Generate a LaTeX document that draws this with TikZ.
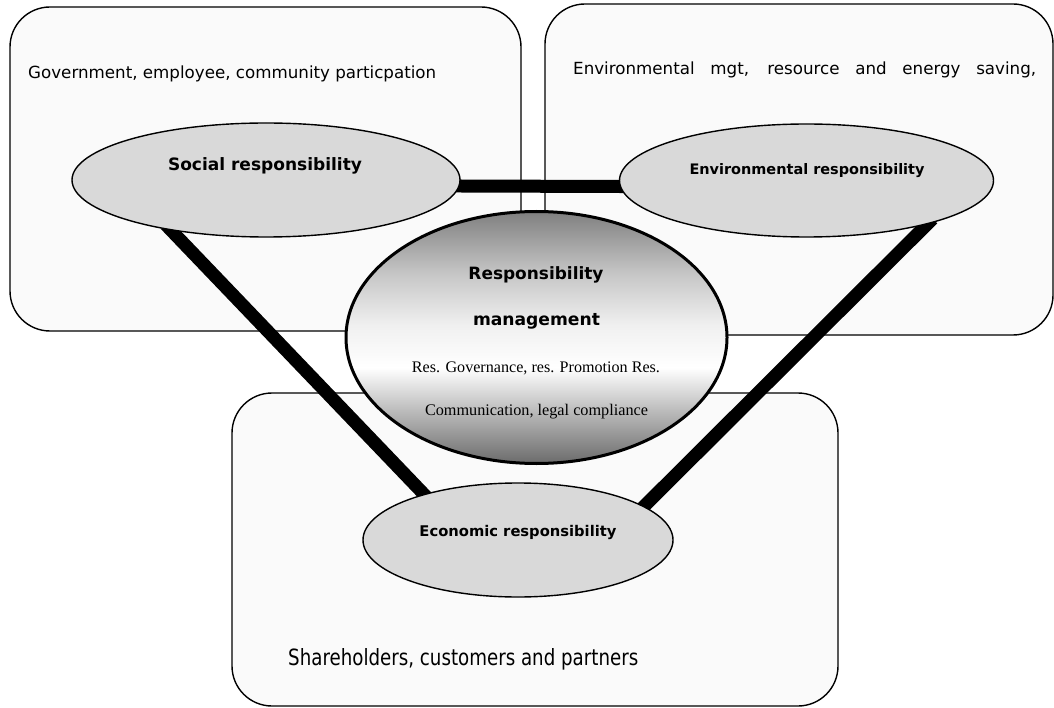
\documentclass[tikz,border=0pt]{standalone}
\usepackage{fontspec}
\setmainfont{Liberation Serif}
\setsansfont{DejaVu Sans}
\usepackage{graphicx}
\usetikzlibrary{shapes.geometric}
\pgfdeclarelayer{bg}
\pgfsetlayers{bg,main}
\pgfdeclareverticalshading{respshade}{100bp}{color(0bp)=(black!58); color(25bp)=(black!58); color(35bp)=(black!28); color(44bp)=(white); color(52.5bp)=(black!6); color(62.5bp)=(black!22); color(75bp)=(black!50); color(100bp)=(black!50)}
\newcommand\fitw[2]{\resizebox{#1}{!}{#2}}
\begin{document}
\begin{tikzpicture}[x=1pt,y=-1pt,
  box/.style={draw=black, line width=1.4pt, fill=black!2, rounded corners=40pt},
  ell/.style={ellipse, draw=black, line width=1.4pt, fill=black!15, inner sep=0pt},
  bar/.style={line width=13pt, black, shorten <=-8pt, shorten >=-8pt},
  lbl/.style={inner sep=0pt, font=\sffamily\bfseries},
  txt/.style={inner sep=0pt, font=\sffamily},
  stxt/.style={inner sep=0pt, font=\rmfamily}]
\useasboundingbox (0,0) rectangle (1054,708);

% ellipses
\node[ell, minimum width=388pt, minimum height=114pt] (social) at (266,180) {};
\node[ell, minimum width=374pt, minimum height=113pt] (env) at (806.5,180.5) {};
\node[ell, minimum width=310pt, minimum height=114pt] (econ) at (518,540) {};
\node[ellipse, draw=black, line width=3pt, shading=respshade, inner sep=0pt,
      minimum width=381pt, minimum height=252pt] (resp) at (536.5,337.5) {};

% boxes and connectors behind
\begin{pgfonlayer}{bg}
\draw[box] (10,7) rectangle (521,331);
\draw[box] (545,4) rectangle (1053,335);
\draw[box] (232,393) rectangle (838,706);
\draw[bar] ([yshift=-6pt]social.east) -- ([yshift=-6pt]env.west);
\draw[bar] (social.208.6) -- (econ.154.2);
\draw[bar] (env.340.8) -- (econ.15.9);
\end{pgfonlayer}

% box texts
\node[txt, anchor=base west] (govtxt) at (28,79) {\fitw{408pt}{Government, employee, community particpation}};
\node[txt, anchor=base west, font=\sffamily\fontsize{16.7}{20}\selectfont] (envtxt) at (573,75)
  {\makebox[463pt][s]{Environmental mgt, resource and energy saving,}};
\node[txt, anchor=base west] (shtxt) at (288,665) {\resizebox{350pt}{17pt}{Shareholders, customers and partners}};

% ellipse labels
\node[lbl] (sociallbl) at (265,166) {\fitw{194pt}{Social responsibility}};
\node[lbl] (envlbl) at (807,171) {\fitw{235pt}{Environmental responsibility}};
\node[lbl] (econlbl) at (518,532) {\fitw{197pt}{Economic responsibility}};
\node[lbl] (resp1) at (536,275) {\fitw{135pt}{Responsibility}};
\node[lbl] (resp2) at (536.5,321) {\fitw{127pt}{management}};
\node[stxt] (resp3) at (536,368) {\fitw{248pt}{Res. Governance, res. Promotion Res.}};
\node[stxt] (resp4) at (536.5,412) {\fitw{223pt}{Communication, legal compliance}};
\end{tikzpicture}
\end{document}
